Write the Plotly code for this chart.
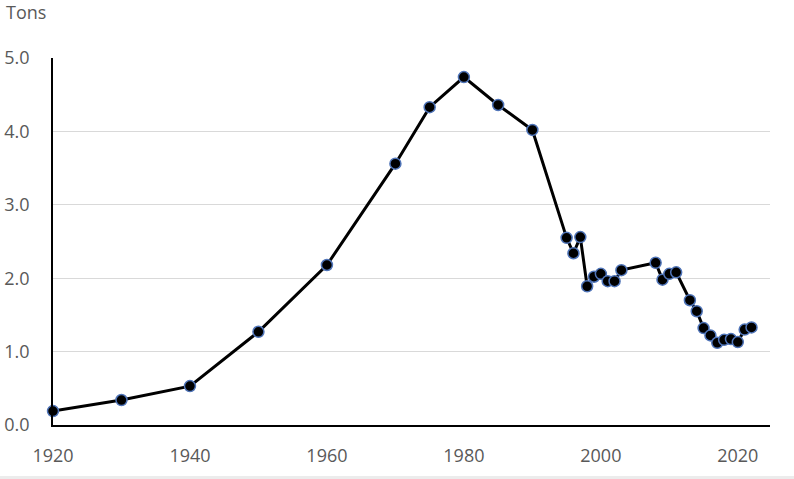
import plotly.graph_objects as go

# =====================================================
# Data
# =====================================================
years = [1920, 1930, 1940, 1950, 1960, 1970, 1975, 1980, 1985, 1990,
         1995, 1996, 1997, 1998, 1999, 2000, 2001, 2002, 2003,
         2008, 2009, 2010, 2011, 2013, 2014, 2015, 2016, 2017,
         2018, 2019, 2020, 2021, 2022]
tons = [0.19, 0.34, 0.53, 1.27, 2.18, 3.56, 4.33, 4.74, 4.36, 4.02,
        2.55, 2.34, 2.56, 1.89, 2.02, 2.06, 1.96, 1.96, 2.11,
        2.21, 1.98, 2.06, 2.08, 1.70, 1.55, 1.32, 1.22, 1.12,
        1.16, 1.17, 1.13, 1.30, 1.33]

x_ticks = [1920, 1940, 1960, 1980, 2000, 2020]
y_ticks = [0, 1, 2, 3, 4, 5]

FONT = "Open Sans"
GREY = "#595959"
SIZE = 18

fig = go.Figure()

fig.add_trace(
    go.Scatter(
        x=years,
        y=tons,
        mode="lines+markers",
        cliponaxis=False,
        line=dict(color="black", width=3),
        marker=dict(
            color="black",
            size=11,
            line=dict(color="#4f74b8", width=1.5)
        ),
        showlegend=False
    )
)

fig.update_layout(
    width=794,
    height=479,
    plot_bgcolor="white",
    paper_bgcolor="white",
    margin=dict(l=53, r=24, t=58, b=54),
    font=dict(family=FONT, size=SIZE, color=GREY),
    annotations=[
        dict(
            text="Tons",
            x=-0.068, y=1.125,
            xref="paper", yref="paper",
            xanchor="left", yanchor="middle",
            showarrow=False,
            font=dict(family=FONT, size=SIZE, color=GREY)
        )
    ],
    shapes=[
        dict(
            type="rect", xref="paper", yref="paper",
            x0=-0.1, x1=1.1, y0=-0.139, y1=-0.2,
            fillcolor="#ececec", line=dict(width=0), layer="above"
        )
    ]
)

fig.update_xaxes(
    range=[1920, 2024.7],
    tickvals=x_ticks,
    tickfont=dict(family=FONT, size=SIZE, color=GREY),
    showgrid=False,
    showline=True,
    linecolor="black",
    linewidth=1.5,
    zeroline=False,
    ticks="",
    ticklabelstandoff=14,
    automargin=False
)

fig.update_yaxes(
    range=[0, 5],
    tickvals=y_ticks,
    tickformat=".1f",
    tickfont=dict(family=FONT, size=SIZE, color=GREY),
    showgrid=True,
    gridcolor="#d9d9d9",
    gridwidth=1,
    showline=True,
    linecolor="black",
    linewidth=1.5,
    zeroline=False,
    ticks="",
    ticklabelstandoff=18,
    automargin=False
)

fig.write_html(
    "out.html",
    config={"displayModeBar": False},
    post_script="document.body.style.margin='0';"
)
